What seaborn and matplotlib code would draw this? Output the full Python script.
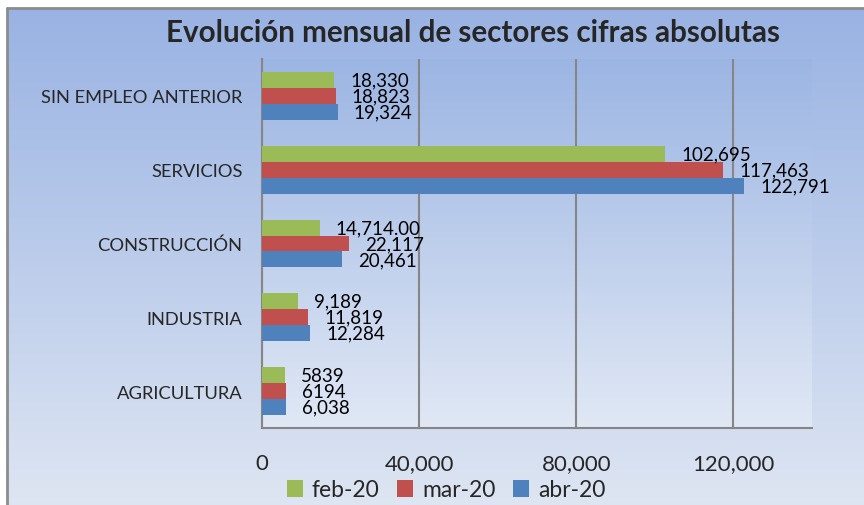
import numpy as np
import pandas as pd
import matplotlib
matplotlib.use('Agg')
import matplotlib.pyplot as plt
import seaborn as sns

sectores = ['SIN EMPLEO ANTERIOR', 'SERVICIOS', 'CONSTRUCCIÓN', 'INDUSTRIA', 'AGRICULTURA']
meses = ['feb-20', 'mar-20', 'abr-20']
feb = [18330, 102695, 14714, 9189, 5839]
mar = [18823, 117463, 22117, 11819, 6194]
abr = [19324, 122791, 20461, 12284, 6038]
etiquetas = {
    'feb-20': ['18,330', '102,695', '14,714.00', '9,189', '5839'],
    'mar-20': ['18,823', '117,463', '22,117', '11,819', '6194'],
    'abr-20': ['19,324', '122,791', '20,461', '12,284', '6,038'],
}
colores = ['#9BBB59', '#C0504D', '#4F81BD']
xticks = [0, 40000, 80000, 120000]

df = pd.DataFrame({
    'sector': sectores * 3,
    'mes': np.repeat(meses, len(sectores)),
    'valor': feb + mar + abr,
})

sns.set_style('white')
plt.rcParams['font.family'] = ['Lato', 'DejaVu Sans']

fig = plt.figure(figsize=(8.64, 5.06), dpi=100)
fig.patch.set_facecolor('white')

# fondo del gráfico con degradado
grad = np.linspace(0, 1, 256)[:, None, None]
top_c = np.array([0.60, 0.70, 0.89])
bot_c = np.array([0.87, 0.90, 0.95])
img = top_c + (bot_c - top_c) * grad
bg = fig.add_axes([7 / 864, 0, 1 - 7 / 864, 1 - 9 / 506], zorder=-2)
bg.imshow(img, aspect='auto', extent=[0, 1, 0, 1])
bg.set_axis_off()
fig.add_artist(plt.Line2D([7 / 864, 7 / 864], [0, 1 - 9 / 506], color='#8c8c8c', lw=2))
fig.add_artist(plt.Line2D([7 / 864, 1], [1 - 9 / 506, 1 - 9 / 506], color='#8c8c8c', lw=2))

pos = [262 / 864, 1 - 429 / 506, 550 / 864, 369 / 506]
pa = fig.add_axes(pos, zorder=-1)
top_p = np.array([0.61, 0.71, 0.89])
bot_p = np.array([0.88, 0.91, 0.96])
img_p = top_p + (bot_p - top_p) * grad
pa.imshow(img_p, aspect='auto', extent=[0, 1, 0, 1])
pa.set_axis_off()

ax = fig.add_axes(pos)
ax.patch.set_alpha(0)
sns.barplot(data=df, x='valor', y='sector', hue='mes', order=sectores,
            hue_order=meses, palette=colores, orient='h', width=0.65,
            saturation=1, linewidth=0, ax=ax, legend=True, zorder=3)

for cont, mes in zip(ax.containers, meses):
    for bar, txt in zip(cont, etiquetas[mes]):
        ax.annotate(txt, (bar.get_width(), bar.get_y() + bar.get_height() / 2),
                    xytext=(11.5, 0), textcoords='offset points',
                    ha='left', va='center', fontsize=13.5, color='black', zorder=4)

ax.set_xlim(0, 140000)
ax.set_xticks(xticks)
ax.set_xticklabels([f'{v:,}' for v in xticks], fontsize=16)
ax.tick_params(axis='x', length=0, pad=18)
ax.tick_params(axis='y', length=0, pad=14, labelsize=13.2)
ax.set_xlabel('')
ax.set_ylabel('')
ax.xaxis.grid(True, color='#868686', lw=1.5, zorder=1)
ax.set_axisbelow(True)
for s in ['top', 'right']:
    ax.spines[s].set_visible(False)
for s in ['left', 'bottom']:
    ax.spines[s].set_color('#868686')
    ax.spines[s].set_linewidth(1.5)

handles, labels = ax.get_legend_handles_labels()
ax.get_legend().remove()
fig.legend(handles, labels, loc='center', bbox_to_anchor=(446 / 864, 1 - 491 / 506),
           ncol=3, frameon=False, fontsize=16.5, handlelength=0.7, handleheight=0.7,
           columnspacing=0.75, handletextpad=0.4, borderaxespad=0)

fig.text(473 / 864, 1 - 33 / 506, 'Evolución mensual de sectores cifras absolutas',
         ha='center', va='center', fontsize=21.3, fontweight='bold')

fig.savefig('out.png', dpi=100)
